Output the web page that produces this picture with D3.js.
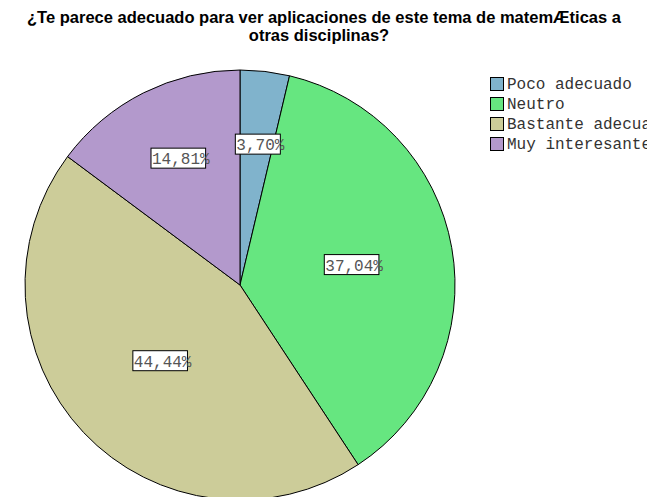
<!DOCTYPE html>
<html>
<head>
<meta charset="utf-8">
<script src="https://cdn.jsdelivr.net/npm/d3@7"></script>
<style>
  body { margin: 0; background: #fff; }
  svg { display: block; }
</style>
</head>
<body>
<div id="chart"></div>
<script>
const titleLines = ["¿Te parece adecuado para ver aplicaciones de este tema de matemÆticas a", "otras disciplinas?"];
const categories = ["Poco adecuado", "Neutro", "Bastante adecuado", "Muy interesante"];
const percents = [3.70, 37.04, 44.44, 14.81];
const colors = ["#80b3cc", "#66e680", "#cccc99", "#b399cc"];

const width = 647, height = 497;
const cx = 240, cy = 285, radius = 215;

const svg = d3.select("#chart").append("svg")
    .attr("width", width)
    .attr("height", height);

// title
svg.append("text")
    .attr("text-anchor", "middle")
    .style("font-family", "'Liberation Sans', Arial, sans-serif")
    .style("font-weight", "bold")
    .style("font-size", "16.5px")
    .selectAll("tspan")
    .data(titleLines)
    .enter().append("tspan")
    .attr("x", (d, i) => i === 0 ? 324 : 319)
    .attr("y", (d, i) => 23 + i * 18)
    .text(d => d);

const data = categories.map((c, i) => ({ name: c, value: percents[i], color: colors[i] }));

const pie = d3.pie()
    .sort(null)
    .value(d => d.value);

const arc = d3.arc()
    .innerRadius(0)
    .outerRadius(radius);

const g = svg.append("g")
    .attr("transform", `translate(${cx},${cy})`);

const arcs = pie(data);

g.selectAll("path")
    .data(arcs)
    .enter().append("path")
    .attr("d", arc)
    .attr("fill", d => d.data.color)
    .attr("stroke", "#000")
    .attr("stroke-width", 1);

// labels: small slices sit further out
const labels = g.selectAll(".lbl")
    .data(arcs)
    .enter().append("g")
    .attr("class", "lbl")
    .attr("transform", d => {
        const r = (d.data.value < 20 ? 0.655 : 0.52) * radius;
        const a = (d.startAngle + d.endAngle) / 2;
        return `translate(${r * Math.sin(a) + 4},${-r * Math.cos(a) - 1})`;
    });

labels.each(function(d) {
    const sel = d3.select(this);
    const txt = d.data.value.toFixed(2).replace(".", ",") + "%";
    const rect = sel.append("rect")
        .attr("fill", "#fff")
        .attr("stroke", "#000")
        .attr("stroke-width", 1);
    const t = sel.append("text")
        .attr("y", 6)
        .style("font-family", "'Liberation Mono', 'Courier New', monospace")
        .style("font-size", "16px")
        .attr("fill", "#555")
        .text(txt);
    const w = t.node().getComputedTextLength();
    t.attr("x", -w / 2);
    rect.attr("x", -w / 2 - 1)
        .attr("y", -10)
        .attr("width", w - 3)
        .attr("height", 20);
});

// legend
const legend = svg.append("g")
    .attr("transform", "translate(490,77)");

const items = legend.selectAll("g")
    .data(data)
    .enter().append("g")
    .attr("transform", (d, i) => `translate(0,${i * 20})`);

items.append("rect")
    .attr("x", 0.5)
    .attr("y", 0.5)
    .attr("width", 13)
    .attr("height", 13)
    .attr("fill", d => d.color)
    .attr("stroke", "#000")
    .attr("stroke-width", 1);

items.append("text")
    .attr("x", 17)
    .attr("y", 12)
    .style("font-family", "'Liberation Mono', 'Courier New', monospace")
    .style("font-size", "16px")
    .attr("fill", "#333")
    .text(d => d.name);
</script>
</body>
</html>
